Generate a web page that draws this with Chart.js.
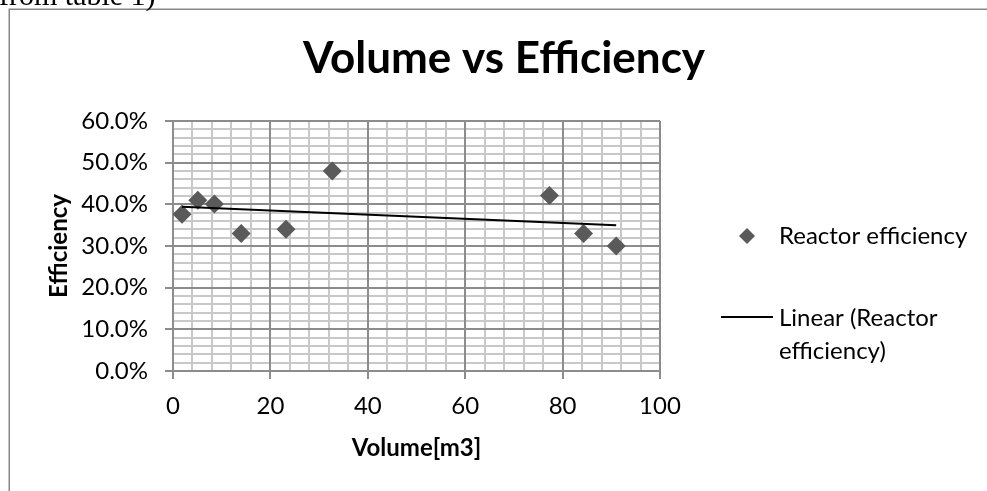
<!DOCTYPE html>
<html><head><meta charset="utf-8">
<script src="https://cdn.jsdelivr.net/npm/chart.js@4.4.1/dist/chart.umd.min.js"></script>
<style>html,body{margin:0;padding:0;background:#fff;overflow:hidden}#wrap{position:relative;width:987px;height:491px}</style>
</head><body><div id="wrap"><canvas id="c" width="987" height="491"></canvas></div>
<script>
// ---- data ----
const volumes = [1.85, 5.1, 8.5, 14.0, 23.2, 32.7, 77.3, 84.3, 91.0];
const efficiencies = [0.376, 0.410, 0.401, 0.330, 0.340, 0.480, 0.421, 0.330, 0.300];
const trendVolumes = [1.85, 91.0];
const trendEfficiencies = [0.394, 0.350];
const xTicks = [0, 20, 40, 60, 80, 100];
const yTicks = [0, 0.1, 0.2, 0.3, 0.4, 0.5, 0.6];
const chartTitle = 'Volume vs Efficiency';
const xTitle = 'Volume[m3]';
const yTitle = 'Efficiency';
const seriesName = 'Reactor efficiency';
const trendName = ['Linear (Reactor', 'efficiency)'];
const captionAbove = 'from table 1)';

const FONT = 'Lato';
const markerColor = '#5a5a5a';
const majorGrid = '#8c8c8c';
const minorGrid = '#c8c8c8';

const decor = {
  id: 'decor',
  beforeDraw(chart) {
    const ctx = chart.ctx;
    ctx.save();
    ctx.fillStyle = '#fff';
    ctx.fillRect(0, 0, chart.width, chart.height);
    ctx.strokeStyle = '#878787';
    ctx.lineWidth = 1.5;
    ctx.strokeRect(9.25, 9.25, 1100, 1100);
    ctx.fillStyle = '#000';
    ctx.font = '30px "Liberation Serif"';
    ctx.textBaseline = 'alphabetic';
    ctx.textAlign = 'left';
    ctx.fillText(captionAbove, -1, 5);
    ctx.font = 'bold 44px ' + FONT;
    ctx.textAlign = 'center';
    ctx.fillText(chartTitle, 504, 73);
    ctx.restore();
  },
  afterDraw(chart) {
    const ctx = chart.ctx;
    ctx.save();
    ctx.fillStyle = markerColor;
    ctx.beginPath();
    ctx.moveTo(747, 228); ctx.lineTo(755, 236); ctx.lineTo(747, 244); ctx.lineTo(739, 236); ctx.closePath();
    ctx.fill();
    ctx.fillStyle = '#000';
    ctx.font = '24px ' + FONT;
    ctx.textBaseline = 'middle';
    ctx.textAlign = 'left';
    ctx.fillText(seriesName, 779, 236);
    ctx.strokeStyle = '#000';
    ctx.lineWidth = 2;
    ctx.beginPath(); ctx.moveTo(721, 317); ctx.lineTo(773, 317); ctx.stroke();
    ctx.fillText(trendName[0], 779, 318);
    ctx.fillText(trendName[1], 779, 351);
    ctx.restore();
  }
};

new Chart(document.getElementById('c'), {
  type: 'scatter',
  data: {
    datasets: [
      {
        label: seriesName,
        data: volumes.map((v, i) => ({x: v, y: efficiencies[i]})),
        pointStyle: 'rectRot',
        pointRadius: 9.5,
        pointHoverRadius: 9.5,
        backgroundColor: markerColor,
        borderColor: markerColor,
        borderWidth: 0,
        order: 1
      },
      {
        label: trendName.join(' '),
        data: trendVolumes.map((v, i) => ({x: v, y: trendEfficiencies[i]})),
        showLine: true,
        borderColor: '#000',
        borderWidth: 2,
        pointRadius: 0,
        fill: false,
        order: 0
      }
    ]
  },
  options: {
    responsive: false,
    animation: false,
    devicePixelRatio: 1,
    layout: {padding: {left: 0, right: 327, top: 121, bottom: 0}},
    plugins: {
      legend: {display: false},
      tooltip: {enabled: false},
      title: {display: false}
    },
    scales: {
      xMinor: {
        type: 'linear', position: 'bottom', min: 0, max: 100, weight: 2,
        ticks: {display: false, stepSize: 4},
        grid: {color: minorGrid, lineWidth: 2, drawTicks: false, z: -2},
        border: {display: false},
        afterFit: s => { s.height = 0; }
      },
      x: {
        type: 'linear', position: 'bottom', min: 0, max: 100, weight: 1,
        afterBuildTicks: s => { s.ticks = xTicks.map(v => ({value: v})); },
        ticks: {color: '#000', font: {family: FONT, size: 24}, padding: 13, maxRotation: 0, autoSkip: false},
        grid: {color: majorGrid, lineWidth: 2, tickLength: 8, z: -1},
        border: {color: majorGrid, width: 2},
        title: {display: true, text: xTitle, color: '#000', font: {family: FONT, size: 24, weight: 'bold'}, padding: {top: 0, bottom: 28}},
        afterFit: s => { s.height = 120; }
      },
      yMinor: {
        type: 'linear', position: 'left', min: 0, max: 0.6, weight: 2,
        ticks: {display: false, stepSize: 0.02},
        grid: {color: minorGrid, lineWidth: 2, drawTicks: false, z: -2},
        border: {display: false},
        afterFit: s => { s.width = 0; }
      },
      y: {
        type: 'linear', position: 'left', min: 0, max: 0.6, weight: 1,
        afterBuildTicks: s => { s.ticks = yTicks.map(v => ({value: v})); },
        ticks: {color: '#000', font: {family: FONT, size: 24}, padding: 17, callback: v => (v * 100).toFixed(1) + '%'},
        grid: {color: majorGrid, lineWidth: 2, tickLength: 8, z: -1},
        border: {color: majorGrid, width: 2},
        title: {display: true, text: yTitle, color: '#000', font: {family: FONT, size: 24, weight: 'bold'}, padding: {top: 45}},
        afterFit: s => { s.width = 173; }
      }
    }
  },
  plugins: [decor]
});
</script></body></html>
